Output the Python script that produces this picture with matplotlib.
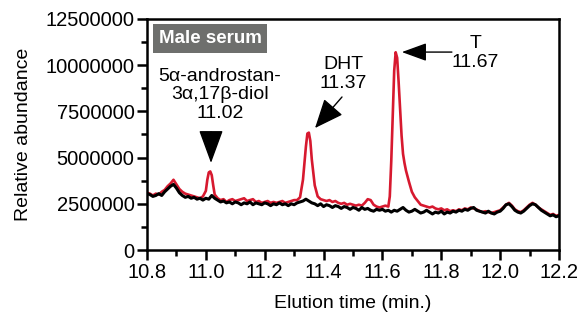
import matplotlib
matplotlib.use('Agg')
import matplotlib.pyplot as plt

plt.rcParams['font.family'] = ['Liberation Sans', 'DejaVu Sans']

# red trace (male serum), abundance in millions
red_t = [10.80, 10.81, 10.82, 10.83, 10.84, 10.85, 10.86, 10.87, 10.88, 10.89,
         10.90, 10.91, 10.92, 10.93, 10.94, 10.95, 10.96, 10.97, 10.98, 10.99,
         11.00, 11.005, 11.01, 11.015, 11.02, 11.025, 11.03, 11.04, 11.05, 11.06,
         11.07, 11.08, 11.09, 11.10, 11.11, 11.12, 11.13, 11.14, 11.15, 11.16,
         11.17, 11.18, 11.19, 11.20, 11.21, 11.22, 11.23, 11.24, 11.25, 11.26,
         11.27, 11.28, 11.29, 11.30, 11.31, 11.32, 11.33, 11.34, 11.345, 11.35,
         11.355, 11.36, 11.365, 11.37, 11.38, 11.39, 11.40, 11.41, 11.42, 11.43,
         11.44, 11.45, 11.46, 11.47, 11.48, 11.49, 11.50, 11.51, 11.52, 11.53,
         11.54, 11.55, 11.56, 11.57, 11.58, 11.59, 11.60, 11.61, 11.62, 11.625,
         11.63, 11.635, 11.64, 11.645, 11.65, 11.655, 11.66, 11.665, 11.67, 11.675,
         11.68, 11.69, 11.70, 11.71, 11.72, 11.73, 11.74, 11.75, 11.76, 11.77,
         11.78, 11.79, 11.80, 11.81, 11.82, 11.83, 11.84, 11.85, 11.86, 11.87,
         11.88, 11.89, 11.90, 11.91, 11.92, 11.93, 11.94, 11.95, 11.96, 11.97,
         11.98, 11.99, 12.00, 12.01, 12.02, 12.03, 12.04, 12.05, 12.06, 12.07,
         12.08, 12.09, 12.10, 12.11, 12.12, 12.13, 12.14, 12.15, 12.16, 12.17,
         12.18, 12.19, 12.20]
red_y = [3.10, 3.05, 2.95, 3.05, 3.00, 3.15, 3.25, 3.45, 3.60, 3.80,
         3.55, 3.30, 3.15, 3.05, 3.00, 2.95, 2.90, 2.85, 2.80, 2.90,
         3.20, 3.80, 4.20, 4.25, 4.05, 3.50, 3.00, 2.80, 2.70, 2.75,
         2.60, 2.70, 2.75, 2.65, 2.70, 2.75, 2.80, 2.65, 2.70, 2.75,
         2.60, 2.65, 2.55, 2.60, 2.65, 2.55, 2.60, 2.55, 2.60, 2.65,
         2.55, 2.60, 2.65, 2.70, 2.70, 2.85, 3.80, 5.60, 6.30, 6.35,
         5.90, 4.90, 4.20, 3.50, 2.90, 2.75, 2.70, 2.65, 2.70, 2.60,
         2.65, 2.55, 2.50, 2.55, 2.45, 2.50, 2.45, 2.40, 2.45, 2.40,
         2.55, 2.75, 2.70, 2.45, 2.35, 2.30, 2.35, 2.40, 2.35, 2.90,
         4.80, 7.30, 9.70, 10.70, 10.40, 9.10, 7.60, 6.20, 5.20, 4.70,
         4.30, 3.70, 3.15, 2.85, 2.65, 2.45, 2.40, 2.35, 2.30, 2.35,
         2.25, 2.20, 2.25, 2.15, 2.20, 2.10, 2.15, 2.10, 2.20, 2.15,
         2.25, 2.20, 2.30, 2.25, 2.20, 2.10, 2.05, 2.10, 2.05, 2.00,
         2.05, 2.10, 2.15, 2.30, 2.45, 2.55, 2.40, 2.20, 2.10, 2.05,
         2.15, 2.30, 2.45, 2.55, 2.45, 2.30, 2.20, 2.10, 2.00, 1.90,
         1.95, 1.85, 1.90]

# black trace, abundance in millions
blk_t = [round(10.80 + 0.01 * i, 2) for i in range(141)]
blk_y = [3.05, 3.00, 2.90, 2.95, 3.05, 2.95, 3.15, 3.30, 3.45, 3.55,
         3.35, 3.10, 2.95, 2.85, 2.90, 2.80, 2.85, 2.75, 2.80, 2.70,
         2.80, 2.75, 2.95, 2.80, 2.70, 2.60, 2.65, 2.55, 2.60, 2.50,
         2.60, 2.55, 2.45, 2.55, 2.50, 2.60, 2.45, 2.55, 2.50, 2.45,
         2.55, 2.50, 2.40, 2.50, 2.45, 2.55, 2.45, 2.50, 2.40, 2.50,
         2.45, 2.55, 2.60, 2.65, 2.75, 2.65, 2.55, 2.50, 2.40, 2.50,
         2.35, 2.45, 2.40, 2.30, 2.40, 2.35, 2.25, 2.35, 2.30, 2.20,
         2.30, 2.25, 2.15, 2.30, 2.20, 2.25, 2.15, 2.10, 2.20, 2.15,
         2.20, 2.10, 2.15, 2.05, 2.15, 2.10, 2.20, 2.30, 2.15, 2.05,
         2.10, 2.20, 2.10, 2.00, 2.05, 2.15, 2.05, 1.95, 2.05, 2.00,
         2.10, 1.95, 2.05, 2.00, 2.10, 2.05, 2.15, 2.10, 2.20, 2.15,
         2.25, 2.30, 2.15, 2.10, 2.05, 2.00, 2.10, 2.00, 1.95, 2.05,
         2.10, 2.25, 2.45, 2.50, 2.35, 2.15, 2.05, 2.00, 2.10, 2.25,
         2.40, 2.50, 2.45, 2.30, 2.15, 2.05, 1.95, 1.85, 1.90, 1.80,
         1.85]

y_ticks = [0, 2500000, 5000000, 7500000, 10000000, 12500000]
x_ticks = [10.8, 11.0, 11.2, 11.4, 11.6, 11.8, 12.0, 12.2]

fig = plt.figure(figsize=(5.84, 3.22), dpi=100)
ax = fig.add_axes([0.2517, 0.2236, 0.7055, 0.7174])

ax.plot(red_t, [v * 1e6 for v in red_y], color='#d7192f', lw=1.9, zorder=2)
ax.plot(blk_t, [v * 1e6 for v in blk_y], color='black', lw=2.2, zorder=3)

ax.set_xlim(10.8, 12.2)
ax.set_ylim(0, 12500000)
ax.set_xticks(x_ticks, ['%.1f' % v for v in x_ticks])
ax.set_xticks([10.9, 11.1, 11.3, 11.5, 11.7, 11.9, 12.1], minor=True)
ax.set_yticks(y_ticks, [str(v) for v in y_ticks])
ax.set_yticks([1250000, 3750000, 6250000, 8750000, 11250000], minor=True)
ax.tick_params(which='major', direction='out', length=7, width=1.8, labelsize=14.5, pad=2)
ax.tick_params(which='minor', direction='out', length=4, width=1.8)
for s in ax.spines.values():
    s.set_linewidth(1.8)

ax.set_ylabel('Relative abundance', fontsize=14, labelpad=10)
ax.set_xlabel('Elution time (min.)', fontsize=14, labelpad=10)

ax.text(11.014, 11440000, 'Male serum', fontsize=13.5, fontweight='bold', color='white',
        ha='center', va='center',
        bbox=dict(boxstyle='square,pad=0.3', fc='#6e6f6d', ec='none'))

ax.text(11.048, 8390000, '5\u03b1-androstan-\n3\u03b1,17\u03b2-diol\n11.02', fontsize=14,
        ha='center', va='center', linespacing=1.1)
ax.text(11.466, 9520000, 'DHT\n11.37', fontsize=14, ha='center', va='center', linespacing=1.1)
ax.text(11.915, 10660000, 'T\n11.67', fontsize=14, ha='center', va='center', linespacing=1.1)

ax.annotate('', xy=(11.0175, 4710000), xytext=(11.0175, 6390000),
            arrowprops=dict(arrowstyle='-|>,head_length=1.5,head_width=0.55', mutation_scale=14,
                            color='black', lw=1, shrinkA=0, shrinkB=0))
ax.annotate('', xy=(11.371, 6600000), xytext=(11.4626, 8280000),
            arrowprops=dict(arrowstyle='-|>,head_length=1.3,head_width=0.55', mutation_scale=14,
                            color='black', lw=1, shrinkA=0, shrinkB=0))
ax.annotate('', xy=(11.666, 10710000), xytext=(11.836, 10710000),
            arrowprops=dict(arrowstyle='-|>,head_length=1.1,head_width=0.4', mutation_scale=14,
                            color='black', lw=1, shrinkA=0, shrinkB=0))

fig.savefig('out.png', dpi=100)
